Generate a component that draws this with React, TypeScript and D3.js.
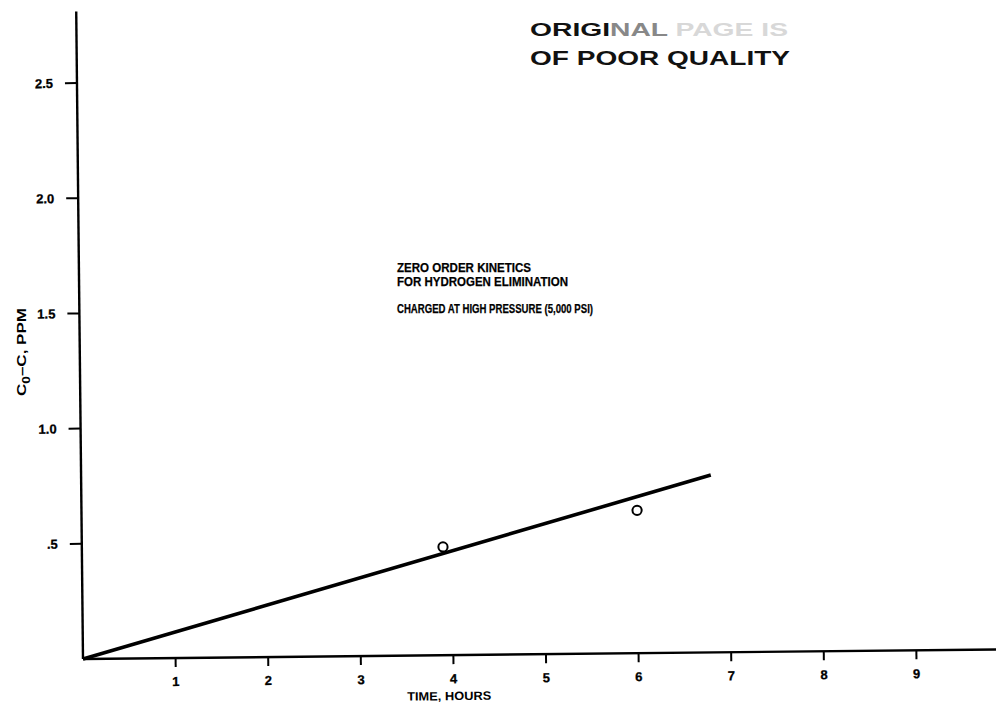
import React from "react";
import * as d3 from "d3";

// values
const xTicks = [1, 2, 3, 4, 5, 6, 7, 8, 9];
const yTicks = [0.5, 1.0, 1.5, 2.0, 2.5];
const yTickLabels = [".5", "1.0", "1.5", "2.0", "2.5"];
const pointHours = [3.9, 6.0];
const pointPpm = [0.47, 0.62];
const fitHours = [0, 6.8];
const fitPpm = [0, 0.77];
const noteLines = ["ZERO ORDER KINETICS", "FOR HYDROGEN ELIMINATION"];
const noteCharged = "CHARGED AT HIGH PRESSURE (5,000 PSI)";

const W = 996;
const H = 705;
const FONT = "'Liberation Sans', Arial, Helvetica, sans-serif";

export default function App() {
  const x = d3.scaleLinear().domain([0, 9]).range([83, 916.4]);
  const y = d3.scaleLinear().domain([0, 2.5]).range([659, 83]);

  const fit = fitHours.map((h, i) => [h, fitPpm[i]] as [number, number]);
  const line = d3
    .line<[number, number]>()
    .x((d) => x(d[0]))
    .y((d) => y(d[1]));

  const x0 = x(0);
  const y0 = y(0);

  return (
    <svg
      width={W}
      height={H}
      style={{ position: "fixed", left: 0, top: 0, background: "#fff" }}
      fontFamily={FONT}
      fontWeight="bold"
    >
      <rect width={W} height={H} fill="#fff" />

      {/* watermark stamp, partly washed out in the scan */}
      <text x={530} y={36} fontSize={19} fill="#111" textLength={258} lengthAdjust="spacingAndGlyphs">
        <tspan>ORIGI</tspan>
        <tspan fill="#888">NAL</tspan>
        <tspan fill="#d8d8d8"> PAGE IS</tspan>
      </text>
      <text x={530} y={65} fontSize={20} fill="#111" textLength={260} lengthAdjust="spacingAndGlyphs">
        OF POOR QUALITY
      </text>

      {/* the scan is tilted a little */}
      <g transform={`rotate(-0.6, ${x0}, ${y0})`}>
        {/* axes */}
        <line x1={x0} y1={y0} x2={x0} y2={y(2.81)} stroke="#000" strokeWidth={2.4} />
        <line x1={x0} y1={y0} x2={x(10.2)} y2={y0} stroke="#000" strokeWidth={2.4} />

        {yTicks.map((t, i) => (
          <g key={t}>
            <line x1={x0 - 12} x2={x0} y1={y(t)} y2={y(t)} stroke="#000" strokeWidth={2} />
            <text x={x0 - 24} y={y(t)} dy="0.36em" textAnchor="end" fontSize={13} stroke="#000" strokeWidth={0.3}>
              {yTickLabels[i]}
            </text>
          </g>
        ))}

        {xTicks.map((t) => (
          <g key={t}>
            <line x1={x(t)} x2={x(t)} y1={y0} y2={y0 + 9} stroke="#000" strokeWidth={2} />
            <text x={x(t)} y={y0 + 28} textAnchor="middle" fontSize={13} stroke="#000" strokeWidth={0.3}>
              {t}
            </text>
          </g>
        ))}

        <text x={x(3.95)} y={y0 + 45} textAnchor="middle" fontSize={12} textLength={84} lengthAdjust="spacingAndGlyphs">
          TIME, HOURS
        </text>

        {/* fitted line */}
        <path d={line(fit) ?? ""} fill="none" stroke="#000" strokeWidth={3.6} />

        {pointHours.map((h, i) => (
          <circle key={h} cx={x(h)} cy={y(pointPpm[i])} r={4.6} fill="#fff" stroke="#000" strokeWidth={2} />
        ))}
      </g>

      {/* y-axis title */}
      <text
        transform="translate(26,352) rotate(-90)"
        textAnchor="middle"
        fontSize={12.5}
        textLength={88}
        lengthAdjust="spacingAndGlyphs"
      >
        <tspan>C</tspan>
        <tspan dy={3.5} fontSize={10}>0</tspan>
        <tspan dy={-3.5}>–C, PPM</tspan>
      </text>

      {/* annotation */}
      <g fontSize={12.5} stroke="#000" strokeWidth={0.25}>
        <text x={397} y={272} textLength={134} lengthAdjust="spacingAndGlyphs">
          {noteLines[0]}
        </text>
        <text x={397} y={285.5} textLength={171} lengthAdjust="spacingAndGlyphs">
          {noteLines[1]}
        </text>
        <text x={397} y={313} textLength={196} lengthAdjust="spacingAndGlyphs">
          {noteCharged}
        </text>
      </g>
    </svg>
  );
}
